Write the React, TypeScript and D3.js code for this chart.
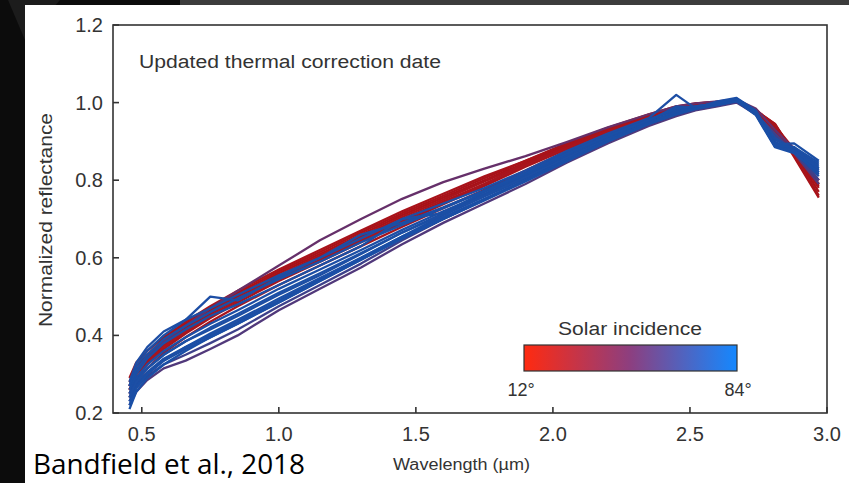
import React from 'react';
import * as d3 from 'd3';

const wavelengths = [0.455, 0.48, 0.52, 0.58, 0.66, 0.75, 0.85, 1.0, 1.15, 1.3, 1.45, 1.6, 1.75, 1.9, 2.05, 2.2, 2.35, 2.45, 2.52, 2.6, 2.67, 2.74, 2.81, 2.88, 2.97];

const incidences = [12, 14, 16, 18, 20, 22, 24, 26, 44, 48, 52, 58, 62, 64, 66, 68, 70, 72, 75, 78, 81, 84];

const line01 = [0.27, 0.31, 0.345, 0.385, 0.425, 0.465, 0.505, 0.56, 0.61, 0.66, 0.71, 0.755, 0.8, 0.845, 0.89, 0.93, 0.968, 0.985, 0.995, 1.0, 1.005, 0.975, 0.94, 0.86, 0.755];
const line02 = [0.28, 0.32, 0.35, 0.39, 0.43, 0.47, 0.51, 0.565, 0.615, 0.665, 0.715, 0.76, 0.805, 0.85, 0.895, 0.935, 0.97, 0.99, 0.998, 1.002, 1.008, 0.98, 0.945, 0.87, 0.77];
const line03 = [0.26, 0.3, 0.335, 0.375, 0.415, 0.455, 0.495, 0.55, 0.6, 0.65, 0.7, 0.745, 0.79, 0.84, 0.885, 0.928, 0.965, 0.985, 0.995, 1.0, 1.005, 0.978, 0.935, 0.875, 0.785];
const line04 = [0.29, 0.33, 0.36, 0.395, 0.435, 0.475, 0.515, 0.57, 0.62, 0.67, 0.72, 0.765, 0.81, 0.85, 0.892, 0.93, 0.968, 0.988, 0.997, 1.002, 1.006, 0.982, 0.94, 0.88, 0.79];
const line05 = [0.25, 0.29, 0.325, 0.365, 0.405, 0.445, 0.485, 0.54, 0.59, 0.64, 0.69, 0.738, 0.785, 0.835, 0.88, 0.925, 0.962, 0.982, 0.993, 0.998, 1.004, 0.975, 0.93, 0.87, 0.78];
const line06 = [0.27, 0.31, 0.34, 0.38, 0.42, 0.46, 0.5, 0.555, 0.605, 0.655, 0.705, 0.75, 0.797, 0.842, 0.887, 0.93, 0.966, 0.986, 0.996, 1.0, 1.006, 0.98, 0.945, 0.865, 0.76];
const line07 = [0.24, 0.28, 0.315, 0.355, 0.395, 0.435, 0.475, 0.53, 0.58, 0.63, 0.68, 0.728, 0.775, 0.825, 0.875, 0.92, 0.96, 0.98, 0.992, 0.998, 1.004, 0.975, 0.93, 0.87, 0.79];
const line08 = [0.26, 0.3, 0.33, 0.37, 0.41, 0.45, 0.49, 0.545, 0.595, 0.645, 0.695, 0.742, 0.79, 0.838, 0.882, 0.926, 0.963, 0.984, 0.994, 0.999, 1.005, 0.978, 0.925, 0.875, 0.8];
const line09 = [0.27, 0.31, 0.345, 0.385, 0.425, 0.47, 0.515, 0.58, 0.645, 0.7, 0.752, 0.795, 0.83, 0.862, 0.898, 0.936, 0.97, 0.99, 0.998, 1.003, 1.008, 0.985, 0.93, 0.88, 0.8];
const line10 = [0.22, 0.255, 0.285, 0.315, 0.335, 0.365, 0.4, 0.465, 0.52, 0.575, 0.635, 0.69, 0.74, 0.79, 0.845, 0.895, 0.94, 0.965, 0.98, 0.99, 1.0, 0.97, 0.915, 0.87, 0.79];
const line11 = [0.23, 0.265, 0.295, 0.325, 0.35, 0.38, 0.415, 0.475, 0.53, 0.585, 0.645, 0.7, 0.75, 0.8, 0.85, 0.9, 0.945, 0.968, 0.982, 0.992, 1.002, 0.972, 0.92, 0.872, 0.8];
const line12 = [0.24, 0.275, 0.305, 0.34, 0.37, 0.4, 0.435, 0.49, 0.545, 0.6, 0.655, 0.71, 0.758, 0.805, 0.855, 0.905, 0.948, 0.97, 0.985, 0.994, 1.004, 0.975, 0.91, 0.875, 0.81];
const line13 = [0.25, 0.285, 0.315, 0.35, 0.385, 0.415, 0.45, 0.505, 0.555, 0.61, 0.665, 0.715, 0.762, 0.81, 0.86, 0.908, 0.95, 0.975, 0.988, 0.996, 1.006, 0.975, 0.905, 0.878, 0.82];
const line14 = [0.23, 0.27, 0.3, 0.335, 0.365, 0.395, 0.43, 0.485, 0.54, 0.595, 0.65, 0.7, 0.75, 0.8, 0.852, 0.9, 0.945, 0.97, 0.985, 0.995, 1.005, 0.972, 0.9, 0.872, 0.815];
const line15 = [0.28, 0.33, 0.37, 0.41, 0.44, 0.5, 0.49, 0.55, 0.6, 0.65, 0.7, 0.74, 0.78, 0.825, 0.875, 0.92, 0.96, 1.02, 0.985, 1.003, 1.012, 0.98, 0.895, 0.885, 0.83];
const line16 = [0.27, 0.32, 0.36, 0.4, 0.44, 0.47, 0.505, 0.555, 0.6, 0.66, 0.69, 0.73, 0.773, 0.82, 0.87, 0.915, 0.957, 0.98, 0.99, 0.998, 1.008, 0.975, 0.89, 0.88, 0.84];
const line17 = [0.25, 0.29, 0.325, 0.36, 0.395, 0.43, 0.465, 0.52, 0.57, 0.62, 0.672, 0.72, 0.765, 0.812, 0.862, 0.91, 0.952, 0.975, 0.99, 0.997, 1.007, 0.972, 0.888, 0.875, 0.825];
const line18 = [0.24, 0.28, 0.315, 0.35, 0.385, 0.42, 0.455, 0.51, 0.56, 0.612, 0.665, 0.712, 0.76, 0.808, 0.858, 0.906, 0.95, 0.975, 0.988, 0.996, 1.006, 0.97, 0.89, 0.878, 0.835];
const line19 = [0.26, 0.3, 0.34, 0.38, 0.415, 0.45, 0.48, 0.53, 0.58, 0.63, 0.7, 0.715, 0.77, 0.815, 0.865, 0.912, 0.953, 0.99, 0.985, 1.0, 1.01, 0.978, 0.892, 0.895, 0.85];
const line20 = [0.22, 0.265, 0.3, 0.335, 0.37, 0.405, 0.44, 0.495, 0.548, 0.6, 0.655, 0.705, 0.752, 0.8, 0.852, 0.902, 0.948, 0.972, 0.986, 0.995, 1.005, 0.97, 0.888, 0.875, 0.83];
const line21 = [0.21, 0.255, 0.29, 0.325, 0.36, 0.395, 0.43, 0.485, 0.54, 0.595, 0.65, 0.7, 0.748, 0.797, 0.848, 0.9, 0.945, 0.97, 0.984, 0.994, 1.004, 0.968, 0.885, 0.87, 0.82];
const line22 = [0.27, 0.31, 0.35, 0.39, 0.425, 0.46, 0.495, 0.545, 0.59, 0.64, 0.685, 0.728, 0.772, 0.818, 0.868, 0.914, 0.955, 0.985, 0.99, 0.998, 1.01, 0.975, 0.89, 0.885, 0.845];

const spectra = [line01, line02, line03, line04, line05, line06, line07, line08, line09, line10, line11, line12, line13, line14, line15, line16, line17, line18, line19, line20, line21, line22];

const xTicks = [0.5, 1.0, 1.5, 2.0, 2.5, 3.0];
const yTicks = [0.2, 0.4, 0.6, 0.8, 1.0, 1.2];
const legendRange = [12, 84];
const lineColorStops = [12, 30, 44, 58, 84];
const lineColors = ['#a81218', '#a8161e', '#66306a', '#1e4ea4', '#1a4fa6'];

export default function App() {
  const W = 849;
  const H = 483;
  const left = 113, right = 827, top = 25, bottom = 413;
  const x = d3.scaleLinear().domain([0.395, 3.0]).range([left, right]);
  const y = d3.scaleLinear().domain([0.2, 1.2]).range([bottom, top]);
  const color = d3
    .scaleLinear<string>()
    .domain(lineColorStops)
    .range(lineColors)
    .interpolate(d3.interpolateRgb);
  const line = d3
    .line<number>()
    .x((_, i) => x(wavelengths[i]))
    .y((d) => y(d));
  const font = '"Liberation Sans", Arial, sans-serif';
  const tickColor = '#333';
  const lgX = d3.scaleLinear().domain(legendRange).range([524, 737]);

  return (
    <svg
      width={W}
      height={H}
      style={{ position: 'absolute', left: 0, top: 0, display: 'block' }}
      fontFamily={font}
    >
      <defs>
        <linearGradient id="lg" x1="0" x2="1" y1="0" y2="0">
          <stop offset="0%" stopColor="#ff2a10" />
          <stop offset="50%" stopColor="#8c3f80" />
          <stop offset="100%" stopColor="#1488ff" />
        </linearGradient>
      </defs>
      <rect x={0} y={0} width={W} height={H} fill="#0c0c0c" />
      <rect x={180} y={0} width={W - 180} height={6} fill="#3c3c3c" />
      <polygon points="8,0 60,0 25,40" fill="#1c1c1c" />
      <rect x={25} y={5} width={W - 25} height={H - 5} fill="#ffffff" />

      {spectra.map((s, i) => (
        <path
          key={i}
          d={line(s) || ''}
          fill="none"
          stroke={color(incidences[i])}
          strokeWidth={2.3}
          strokeLinejoin="round"
        />
      ))}

      <rect
        x={left}
        y={top}
        width={right - left}
        height={bottom - top}
        fill="none"
        stroke={tickColor}
        strokeWidth={1.6}
      />
      {xTicks.map((t) => (
        <g key={'x' + t}>
          <line x1={x(t)} x2={x(t)} y1={bottom} y2={bottom - 6} stroke={tickColor} strokeWidth={1.6} />
          <text x={x(t)} y={441} textAnchor="middle" fontSize={20} fill="#333">
            {t.toFixed(1)}
          </text>
        </g>
      ))}
      {yTicks.map((t) => (
        <g key={'y' + t}>
          <line x1={left} x2={left + 6} y1={y(t)} y2={y(t)} stroke={tickColor} strokeWidth={1.6} />
          <text x={103} y={y(t)} dy="0.35em" textAnchor="end" fontSize={20} fill="#333">
            {t.toFixed(1)}
          </text>
        </g>
      ))}

      <text x={139} y={68} fontSize={18} fill="#333" textLength={302} lengthAdjust="spacingAndGlyphs">
        Updated thermal correction date
      </text>
      <text
        transform="translate(52,220) rotate(-90)"
        textAnchor="middle"
        fontSize={18}
        fill="#333"
        textLength={214}
        lengthAdjust="spacingAndGlyphs"
      >
        Normalized reflectance
      </text>
      <text x={393} y={470} fontSize={16} fill="#333" textLength={137} lengthAdjust="spacingAndGlyphs">
        Wavelength (µm)
      </text>

      <text x={558} y={335} fontSize={18} fill="#333" textLength={144} lengthAdjust="spacingAndGlyphs">
        Solar incidence
      </text>
      <rect x={lgX(12)} y={345} width={lgX(84) - lgX(12)} height={26} fill="url(#lg)" stroke="#333" strokeWidth={1.2} />
      <text x={lgX(12) - 3} y={396} textAnchor="middle" fontSize={18} fill="#333">
        {legendRange[0]}°
      </text>
      <text x={lgX(84) + 1} y={396} textAnchor="middle" fontSize={18} fill="#333">
        {legendRange[1]}°
      </text>

      <text
        x={33}
        y={474}
        fontSize={28}
        fill="#000"
        fontFamily='"Open Sans", "Noto Sans", sans-serif'
        textLength={272}
        lengthAdjust="spacingAndGlyphs"
      >
        Bandfield et al., 2018
      </text>
    </svg>
  );
}
